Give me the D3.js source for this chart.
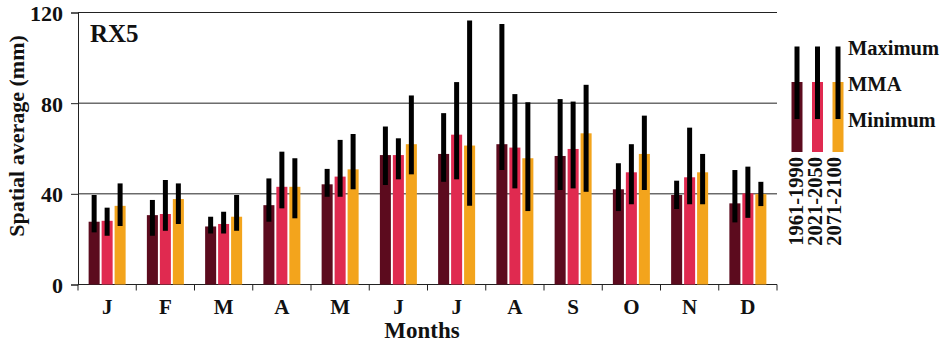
<!DOCTYPE html>
<html>
<head>
<meta charset="utf-8">
<script src="https://cdn.jsdelivr.net/npm/d3@7"></script>
<style>
  body { margin: 0; background: #fff; }
  text { font-family: "Liberation Serif", "DejaVu Serif", serif; font-weight: bold; fill: #111; }
</style>
</head>
<body>
<div id="chart"></div>
<script>
// months and periods
const months = ["J", "F", "M", "A", "M", "J", "J", "A", "S", "O", "N", "D"];
const periods = ["1961-1990", "2021-2050", "2071-2100"];
const colors = ["#5c0b1e", "#e02a50", "#f3a41c"];
const yTicks = [0, 40, 80, 120];

// MMA (bar height) per period
const mma1961 = [27.7, 30.6, 25.6, 35.0, 44.2, 57.1, 57.6, 61.9, 56.7, 42.0, 39.5, 35.8];
const mma2021 = [28.1, 31.1, 26.7, 43.1, 47.6, 57.1, 66.1, 60.4, 59.8, 49.5, 47.3, 40.2];
const mma2071 = [34.7, 37.7, 29.9, 43.1, 50.8, 61.9, 61.3, 55.7, 66.7, 57.6, 49.5, 39.9];

// maximum per period
const max1961 = [39.5, 37.3, 29.9, 46.8, 51.0, 69.7, 75.6, 114.9, 81.8, 53.5, 45.8, 50.5];
const max2021 = [33.9, 46.1, 32.1, 58.6, 63.8, 64.5, 89.3, 84.0, 80.7, 61.9, 69.2, 52.0];
const max2071 = [44.6, 44.6, 39.5, 55.7, 66.4, 83.4, 116.5, 80.4, 88.1, 74.5, 57.6, 45.3];

// minimum per period
const min1961 = [23.0, 21.5, 22.5, 27.7, 38.7, 43.9, 45.3, 50.5, 41.7, 32.4, 33.3, 27.4];
const min2021 = [21.5, 23.7, 22.5, 33.6, 38.7, 46.4, 46.4, 42.4, 42.4, 35.4, 35.4, 29.4];
const min2071 = [25.8, 26.7, 23.7, 29.2, 42.0, 48.6, 34.7, 32.4, 40.9, 41.7, 35.4, 34.6];

const mmaSets = [mma1961, mma2021, mma2071];
const maxSets = [max1961, max2021, max2071];
const minSets = [min1961, min2021, min2071];

const W = 945, H = 345;
const plotLeft = 78, plotRight = 777, plotTop = 12.5, plotBottom = 284.5;

const svg = d3.select("#chart").append("svg")
    .attr("width", W)
    .attr("height", H);

const y = d3.scaleLinear().domain([0, 120]).range([plotBottom, plotTop]);
const x = d3.scaleBand().domain(d3.range(12)).range([plotLeft, plotRight]).padding(0);
const xs = d3.scaleBand().domain(d3.range(3)).range([-18.5, 18.5]).paddingInner(0.15);

// gridlines
svg.append("g")
    .selectAll("line")
    .data(yTicks.filter(d => d > 0))
    .enter()
    .append("line")
    .attr("x1", plotLeft).attr("x2", plotRight)
    .attr("y1", d => y(d)).attr("y2", d => y(d))
    .attr("stroke", "#222").attr("stroke-width", 1);

// y axis
const yAxis = svg.append("g")
    .attr("transform", `translate(${plotLeft},0)`)
    .call(d3.axisLeft(y).tickValues(yTicks).tickSize(7).tickPadding(8));
yAxis.select(".domain").attr("stroke", "#222");
yAxis.selectAll(".tick line").attr("stroke", "#222");
yAxis.selectAll("text").style("font-size", "22px").attr("dy", "0.36em");

// x axis: baseline + ticks at month boundaries
svg.append("line")
    .attr("x1", plotLeft).attr("x2", plotRight)
    .attr("y1", plotBottom).attr("y2", plotBottom)
    .attr("stroke", "#222");
svg.append("g")
    .selectAll("line")
    .data(d3.range(13))
    .enter()
    .append("line")
    .attr("x1", i => plotLeft + i * x.step()).attr("x2", i => plotLeft + i * x.step())
    .attr("y1", plotBottom).attr("y2", plotBottom + 6)
    .attr("stroke", "#222");

svg.append("g")
    .selectAll("text")
    .data(months)
    .enter()
    .append("text")
    .attr("x", (d, i) => x(i) + x.bandwidth() / 2)
    .attr("y", 314)
    .attr("text-anchor", "middle")
    .style("font-size", "21px")
    .text(d => d);

// bars and whiskers
const groups = svg.append("g")
    .selectAll("g")
    .data(months.map((m, i) => i))
    .enter()
    .append("g")
    .attr("transform", i => `translate(${x(i) + x.bandwidth() / 2},0)`);

periods.forEach((p, k) => {
    groups.append("rect")
        .attr("x", xs(k))
        .attr("width", xs.bandwidth())
        .attr("y", i => y(mmaSets[k][i]))
        .attr("height", i => plotBottom - y(mmaSets[k][i]))
        .attr("fill", colors[k]);
    groups.append("line")
        .attr("x1", xs(k) + xs.bandwidth() / 2)
        .attr("x2", xs(k) + xs.bandwidth() / 2)
        .attr("y1", i => y(maxSets[k][i]))
        .attr("y2", i => y(minSets[k][i]))
        .attr("stroke", "#000")
        .attr("stroke-width", 5);
});

// title
svg.append("text")
    .attr("x", 90).attr("y", 42)
    .style("font-size", "25px")
    .text("RX5");

// axis titles
svg.append("text")
    .attr("transform", "translate(24,136) rotate(-90)")
    .attr("text-anchor", "middle")
    .style("font-size", "22px")
    .text("Spatial average (mm)");
svg.append("text")
    .attr("x", 422).attr("y", 338)
    .attr("text-anchor", "middle")
    .style("font-size", "23px")
    .text("Months");

// legend
const legend = svg.append("g").attr("transform", "translate(797,0)");
const ly = d3.scaleLinear().domain([0, 1]).range([152, 82]);
periods.forEach((p, k) => {
    const cx = k * 20.5;
    legend.append("rect")
        .attr("x", cx - 5.5).attr("width", 11)
        .attr("y", ly(1)).attr("height", ly(0) - ly(1))
        .attr("fill", colors[k]);
    legend.append("line")
        .attr("x1", cx).attr("x2", cx)
        .attr("y1", 46.5).attr("y2", 119)
        .attr("stroke", "#000").attr("stroke-width", 5);
    legend.append("text")
        .attr("transform", `translate(${cx + 6 - k * 1.5},157) rotate(-90)`)
        .attr("text-anchor", "end")
        .style("font-size", "20.5px")
        .text(p);
});
[["Maximum", 55], ["MMA", 91], ["Minimum", 127]].forEach(([t, ty]) => {
    legend.append("text")
        .attr("x", 51).attr("y", ty)
        .style("font-size", "20.5px")
        .text(t);
});
</script>
</body>
</html>
